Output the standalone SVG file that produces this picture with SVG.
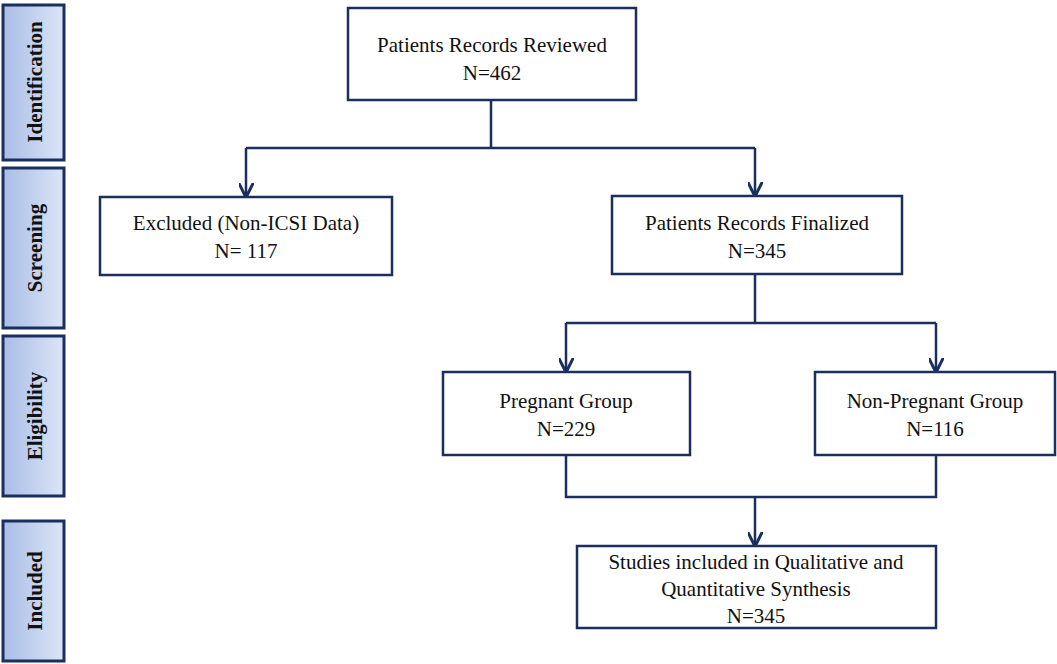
<svg xmlns="http://www.w3.org/2000/svg" width="1057" height="664" viewBox="0 0 1057 664">
<style>
.box{fill:#fff;stroke:#1b2f5e;stroke-width:2.5}
.side{fill:url(#g);stroke:#1b2f5e;stroke-width:3}
.t{font-family:"Liberation Serif",serif;font-size:21px;fill:#111;text-anchor:middle}
.s{font-family:"Liberation Serif",serif;font-size:21px;font-weight:bold;fill:#111;text-anchor:middle}
.c{fill:none;stroke:#1b2f5e;stroke-width:2.5}
</style>
<defs>
<linearGradient id="g" x1="0" x2="1" y1="0" y2="0"><stop offset="0" stop-color="#a9bde6"/><stop offset="1" stop-color="#dbe5f7"/></linearGradient>
<marker id="a" viewBox="0 0 10 10" refX="9" refY="5" markerWidth="6" markerHeight="6" orient="auto"><path d="M0,0 L10,5 L0,10" fill="none" stroke="#1b2f5e" stroke-width="2"/></marker>
</defs>
<g id="side-identification"><rect class="side" x="3" y="5" width="61" height="155"/><text class="s" transform="translate(42,82) rotate(-90)">Identification</text></g>
<g id="side-screening"><rect class="side" x="3" y="168" width="61" height="160"/><text class="s" transform="translate(42,248) rotate(-90)">Screening</text></g>
<g id="side-eligibility"><rect class="side" x="3" y="336" width="61" height="160"/><text class="s" transform="translate(42,416) rotate(-90)">Eligibility</text></g>
<g id="side-included"><rect class="side" x="3" y="521" width="61" height="140"/><text class="s" transform="translate(42,591) rotate(-90)">Included</text></g>
<g id="connectors">
<path class="c" d="M491,100 V148 M246,148 H755"/>
<path class="c" d="M246,148 V196" marker-end="url(#a)"/>
<path class="c" d="M755,148 V195" marker-end="url(#a)"/>
<path class="c" d="M755,274 V323 M566,323 H936"/>
<path class="c" d="M566,323 V371" marker-end="url(#a)"/>
<path class="c" d="M936,323 V371" marker-end="url(#a)"/>
<path class="c" d="M566,455 V497 H936 V455"/>
<path class="c" d="M755,497 V545" marker-end="url(#a)"/>
</g>
<g id="n1"><rect class="box" x="348" y="8" width="288" height="92"/><text class="t" x="492" y="52">Patients Records Reviewed</text><text class="t" x="492" y="80">N=462</text></g>
<g id="n2"><rect class="box" x="100" y="197" width="292" height="78"/><text class="t" x="246" y="230">Excluded (Non-ICSI Data)</text><text class="t" x="246" y="258">N= 117</text></g>
<g id="n3"><rect class="box" x="612" y="196" width="290" height="78"/><text class="t" x="757" y="230">Patients Records Finalized</text><text class="t" x="757" y="258">N=345</text></g>
<g id="n4"><rect class="box" x="443" y="372" width="247" height="83"/><text class="t" x="566" y="408">Pregnant Group</text><text class="t" x="566" y="436">N=229</text></g>
<g id="n5"><rect class="box" x="815" y="372" width="240" height="83"/><text class="t" x="935" y="408">Non-Pregnant Group</text><text class="t" x="935" y="436">N=116</text></g>
<g id="n6"><rect class="box" x="577" y="546" width="359" height="82"/><text class="t" x="756" y="569">Studies included in Qualitative and</text><text class="t" x="756" y="596">Quantitative Synthesis</text><text class="t" x="756" y="623">N=345</text></g>
</svg>
